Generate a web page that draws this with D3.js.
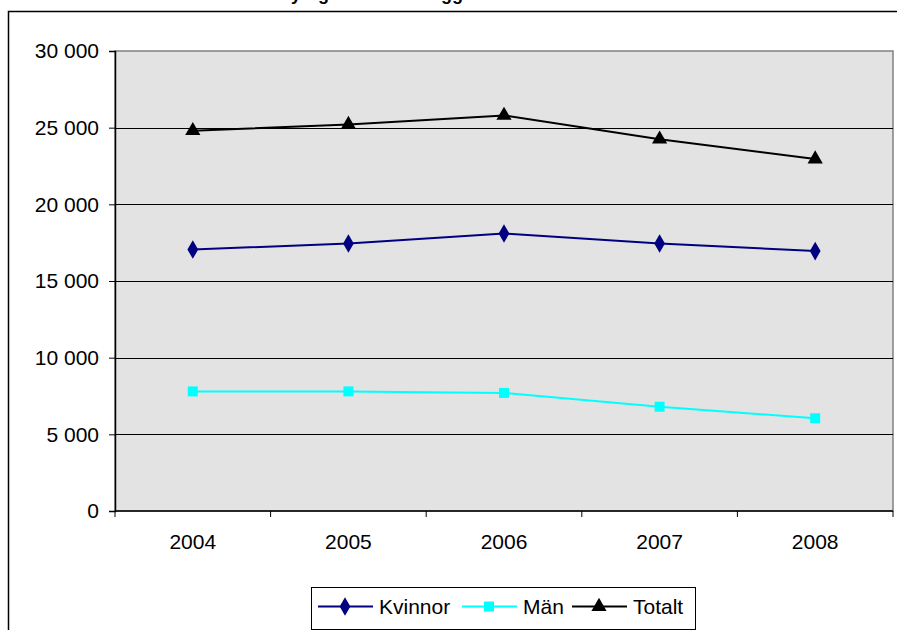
<!DOCTYPE html>
<html>
<head>
<meta charset="utf-8">
<script src="https://cdn.jsdelivr.net/npm/d3@7"></script>
<style>
  body { margin: 0; background: #fff; }
  svg { display: block; font-family: Arial, "Liberation Sans", sans-serif; }
</style>
</head>
<body>
<svg id="chart" width="897" height="630"></svg>
<script>
// Data
const years = ["2004", "2005", "2006", "2007", "2008"];
const kvinnor = [17050, 17450, 18100, 17450, 16950];
const man = [7800, 7800, 7700, 6800, 6050];
const totalt = [24800, 25200, 25800, 24250, 22950];
const yTicks = [0, 5000, 10000, 15000, 20000, 25000, 30000];

const series = [
    { name: "Kvinnor", values: kvinnor, color: "#000080", symbol: d3.symbolDiamond, size: 100 },
    { name: "Män", values: man, color: "#00FFFF", symbol: d3.symbolSquare, size: 100 },
    { name: "Totalt", values: totalt, color: "#000000", symbol: d3.symbolTriangle, size: 100 }
];

const svg = d3.select("#chart");
const plot = { left: 115, top: 51, right: 893, bottom: 511 };
const fontSize = 21;

// outer chart frame (runs off right/bottom edge)
svg.append("rect")
    .attr("x", 8.5).attr("y", 11.5)
    .attr("width", 900).attr("height", 640)
    .attr("fill", "none").attr("stroke", "#000").attr("stroke-width", 1.5);

// title, cut off above the frame as in the source (only descenders show)
svg.append("text")
    .attr("x", 230).attr("y", -0.5)
    .attr("font-weight", "bold").attr("font-size", 18)
    .text("Antal nyregistrerade inlägg");

const x = d3.scaleBand().domain(years).range([plot.left, plot.right]);
const y = d3.scaleLinear().domain([0, 30000]).range([plot.bottom, plot.top]);

// plot background
svg.append("rect")
    .attr("x", plot.left).attr("y", plot.top)
    .attr("width", plot.right - plot.left).attr("height", plot.bottom - plot.top)
    .attr("fill", "#e3e3e3").attr("stroke", "#808080").attr("stroke-width", 1.5);

// gridlines
svg.append("g")
    .selectAll("line")
    .data(yTicks.filter(d => d > 0 && d < 30000))
    .enter().append("line")
    .attr("x1", plot.left).attr("x2", plot.right)
    .attr("y1", d => Math.round(y(d)) + 0.5).attr("y2", d => Math.round(y(d)) + 0.5)
    .attr("stroke", "#000").attr("stroke-width", 1);

// y axis
const fmt = d => d3.format(",")(d).replace(/,/g, " ");
const yAxis = svg.append("g")
    .attr("transform", `translate(${plot.left},0)`)
    .call(d3.axisLeft(y).tickValues(yTicks).tickFormat(fmt).tickSize(6).tickPadding(10));
yAxis.select(".domain").attr("stroke", "#000").attr("stroke-width", 1.5);
yAxis.selectAll("text").attr("font-size", fontSize).attr("fill", "#000")
    .attr("font-family", "Arial, 'Liberation Sans', sans-serif");

// x axis, ticks between categories
const xAxis = svg.append("g").attr("transform", `translate(0,${plot.bottom})`);
xAxis.append("line")
    .attr("x1", plot.left).attr("x2", plot.right)
    .attr("stroke", "#000").attr("stroke-width", 1.5);
xAxis.selectAll("line.tick")
    .data(years.map(d => x(d)).concat([plot.right]))
    .enter().append("line")
    .attr("class", "tick")
    .attr("x1", d => d).attr("x2", d => d)
    .attr("y1", 0).attr("y2", 6)
    .attr("stroke", "#000");
xAxis.selectAll("text")
    .data(years)
    .enter().append("text")
    .attr("x", d => x(d) + x.bandwidth() / 2)
    .attr("y", 38)
    .attr("text-anchor", "middle")
    .attr("font-size", fontSize)
    .text(d => d);

// lines + markers
const line = d3.line()
    .x((d, i) => x(years[i]) + x.bandwidth() / 2)
    .y(d => y(d));

series.forEach(s => {
    svg.append("path")
        .datum(s.values)
        .attr("d", line)
        .attr("fill", "none")
        .attr("stroke", s.color)
        .attr("stroke-width", 2);
    svg.append("g")
        .selectAll("path")
        .data(s.values)
        .enter().append("path")
        .attr("transform", (d, i) => `translate(${x(years[i]) + x.bandwidth() / 2},${y(d)})`)
        .attr("d", d3.symbol().type(s.symbol).size(s.size))
        .attr("fill", s.color);
});

// legend
const legend = svg.append("g");
legend.append("rect")
    .attr("x", 311.5).attr("y", 587.5)
    .attr("width", 384).attr("height", 42)
    .attr("fill", "#fff").attr("stroke", "#000").attr("stroke-width", 1);
const legendX = [318, 462, 572];
series.forEach((s, i) => {
    const g = legend.append("g").attr("transform", `translate(${legendX[i]},606.5)`);
    g.append("line").attr("x1", 0).attr("x2", 55)
        .attr("stroke", s.color).attr("stroke-width", 2);
    g.append("path")
        .attr("transform", "translate(27,0)")
        .attr("d", d3.symbol().type(s.symbol).size(s.size))
        .attr("fill", s.color);
    g.append("text")
        .attr("x", 61).attr("y", 7)
        .attr("font-size", fontSize)
        .text(s.name);
});
</script>
</body>
</html>
